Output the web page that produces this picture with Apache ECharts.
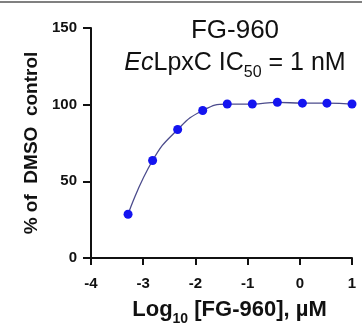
<!DOCTYPE html>
<html>
<head>
<meta charset="utf-8">
<script src="https://cdn.jsdelivr.net/npm/echarts@6/dist/echarts.min.js"></script>
<style>
html,body{margin:0;padding:0;background:#fff;}
#chart{width:362px;height:331px;}
</style>
</head>
<body>
<div id="chart"></div>
<script>
// Data
var logConc = [-3.29, -2.82, -2.34, -1.86, -1.39, -0.91, -0.43, 0.05, 0.52, 1.0];
var pctControl = [28.5, 63.6, 83.8, 96.2, 100.4, 100.4, 101.5, 101.0, 101.0, 100.4];
var xTicks = [-4, -3, -2, -1, 0, 1];
var yTicks = [0, 50, 100, 150];
var titleText = 'FG-960';
var subtitleText = '{i|Ec}LpxC IC{sub|50} = 1 nM';
var xAxisName = 'Log{sub|10} [FG-960], µM';
var yAxisName = '% of  DMSO  control';

var FONT = '"Liberation Sans", Arial, Helvetica, sans-serif';
var chart = echarts.init(document.getElementById('chart'), null, {renderer: 'canvas'});
var pts = logConc.map(function (x, i) { return [x, pctControl[i]]; });

chart.setOption({
  animation: false,
  backgroundColor: '#fff',
  grid: {left: 91, right: 10, top: 28, bottom: 68, containLabel: false},
  xAxis: {
    type: 'value',
    min: xTicks[0], max: xTicks[xTicks.length - 1], interval: 1,
    name: xAxisName,
    nameLocation: 'middle',
    nameGap: 41,
    nameTextStyle: {
      fontFamily: FONT, fontSize: 22, fontWeight: 'bold', color: '#111',
      padding: [0, 0, 0, 16],
      rich: {sub: {fontFamily: FONT, fontSize: 14, fontWeight: 'bold', color: '#111', verticalAlign: 'bottom', padding: [0, 0, -5, 0]}}
    },
    axisLine: {show: true, onZero: false, lineStyle: {color: '#111', width: 2}},
    axisTick: {show: true, inside: false, length: 7, lineStyle: {color: '#111', width: 2}},
    axisLabel: {fontFamily: FONT, fontSize: 15, fontWeight: 'bold', color: '#111', margin: 18},
    splitLine: {show: false}
  },
  yAxis: {
    type: 'value',
    min: yTicks[0], max: yTicks[yTicks.length - 1], interval: 50,
    name: yAxisName,
    nameLocation: 'middle',
    nameRotate: 90,
    nameGap: 47,
    nameTextStyle: {fontFamily: FONT, fontSize: 19, fontWeight: 'bold', color: '#111'},
    axisLine: {show: true, onZero: false, lineStyle: {color: '#111', width: 2}},
    axisTick: {show: true, inside: false, length: 8, lineStyle: {color: '#111', width: 2}},
    axisLabel: {fontFamily: FONT, fontSize: 15, fontWeight: 'bold', color: '#111', margin: 14},
    splitLine: {show: false}
  },
  graphic: [
    {type: 'rect', left: 0, top: 1, shape: {width: 362, height: 2}, style: {fill: '#808080'}},
    {type: 'text', x: 235, y: 31, style: {
      text: titleText, fontFamily: FONT, fontSize: 26, fill: '#111',
      align: 'center', verticalAlign: 'middle'
    }},
    {type: 'text', x: 235, y: 63, style: {
      text: subtitleText, fontFamily: FONT, fontSize: 25, fill: '#111',
      align: 'center', verticalAlign: 'middle',
      rich: {
        i: {fontFamily: FONT, fontSize: 25, fontStyle: 'italic', fill: '#111', color: '#111'},
        sub: {fontFamily: FONT, fontSize: 16, fill: '#111', color: '#111', verticalAlign: 'bottom', padding: [0, 0, -5, 0]}
      }
    }}
  ],
  series: [{
    type: 'line',
    data: pts,
    smooth: 0.5,
    clip: false,
    symbol: 'circle',
    symbolSize: 9,
    itemStyle: {color: '#1414f0', borderWidth: 0},
    lineStyle: {color: '#4b4b8c', width: 1.3}
  }]
});
</script>
</body>
</html>
